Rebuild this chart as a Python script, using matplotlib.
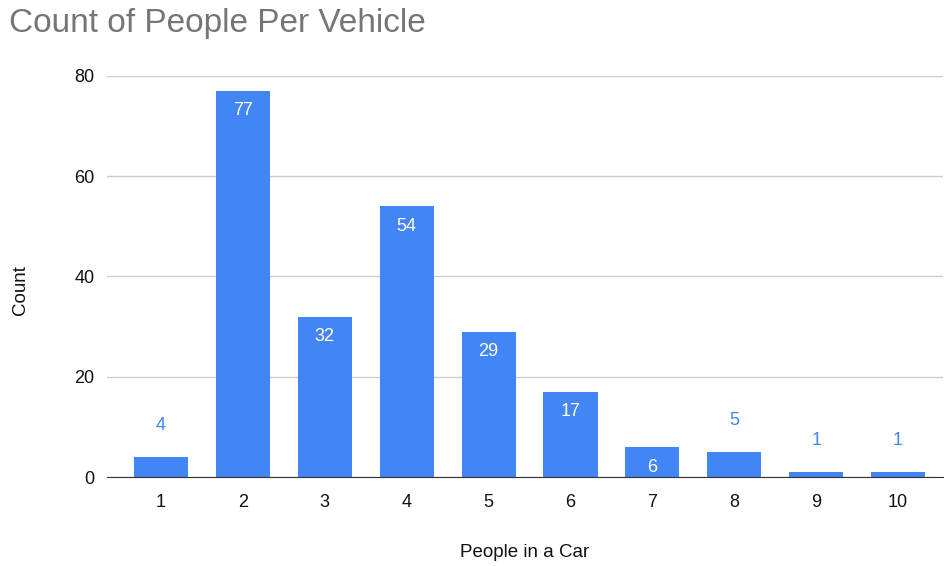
import matplotlib
matplotlib.use('Agg')
import matplotlib.pyplot as plt

# 每辆车的人数统计
people = ['1', '2', '3', '4', '5', '6', '7', '8', '9', '10']
counts = [4, 77, 32, 54, 29, 17, 6, 5, 1, 1]
yticks = [0, 20, 40, 60, 80]

bar_color = '#4285F4'
plt.rcParams['font.family'] = ['Liberation Sans', 'DejaVu Sans']

fig = plt.figure(figsize=(9.46, 5.66), dpi=100)
ax = fig.add_axes([0.113, 0.157, 0.884, 0.709])

x = list(range(1, len(people) + 1))
ax.bar(x, counts, width=0.66, color=bar_color, zorder=3)

# 数值标签：高的柱子写在内部（白色），矮的写在上方（蓝色）
for xi, c in zip(x, counts):
    if c >= 6:
        ax.annotate(str(c), (xi, c), xytext=(0, -20), textcoords='offset pixels',
                    ha='center', va='center', color='white', fontsize=13, zorder=4)
    else:
        ax.annotate(str(c), (xi, c), xytext=(0, 32), textcoords='offset pixels',
                    ha='center', va='center', color=bar_color, fontsize=13, zorder=4)

ax.set_xlim(0.34, 10.55)
ax.set_ylim(0, 80)
ax.set_xticks(x)
ax.set_xticklabels(people)
ax.set_yticks(yticks)
ax.tick_params(axis='both', length=0, labelsize=13, colors='#111111')
ax.tick_params(axis='x', pad=12)
ax.tick_params(axis='y', pad=9)

ax.grid(axis='y', color='#cccccc', linewidth=1, zorder=0)
for s in ['top', 'right', 'left']:
    ax.spines[s].set_visible(False)
ax.spines['bottom'].set_color('#333333')
ax.spines['bottom'].set_zorder(5)

ax.set_xlabel('People in a Car', fontsize=13.5, color='#111111', labelpad=24)
ax.set_ylabel('Count', fontsize=13.5, color='#111111')
ax.yaxis.set_label_coords(-0.093, 0.465)

fig.text(0.010, 0.958, 'Count of People Per Vehicle', fontsize=24,
         color='#757575', va='center')

fig.savefig('out.png', dpi=100)
